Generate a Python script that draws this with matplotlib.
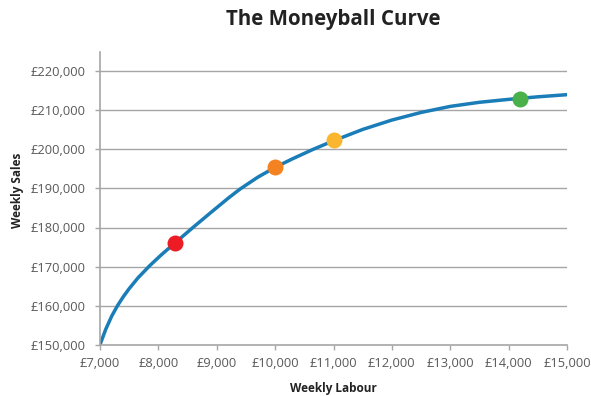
import matplotlib
matplotlib.use("Agg")
import matplotlib.pyplot as plt
from matplotlib.ticker import FuncFormatter

plt.rcParams['font.family'] = ['Open Sans', 'DejaVu Sans']

curve_labour = [7000, 7100, 7200, 7300, 7400, 7500, 7650, 7850, 8050, 8300, 8600, 8900, 9200, 9400,
                9700, 10000, 10300, 10650, 11000, 11500, 12000, 12500, 13000, 13500, 14000, 14500, 15000]
curve_sales = [150000, 154000, 157300, 160000, 162300, 164350, 167100, 170200, 173000, 176250, 180100,
               183850, 187550, 189850, 192850, 195400, 197600, 200000, 202200, 205100, 207500, 209450,
               211000, 212050, 212800, 213450, 214000]

point_labour = [8290, 10005, 11016, 14194]
point_sales = [176100, 195500, 202330, 212950]
point_colors = ['#ed1c24', '#f58220', '#fbb62f', '#4ab04a']

x_ticks = list(range(7000, 15001, 1000))
y_ticks = list(range(150000, 220001, 10000))

fig = plt.figure(figsize=(5.91, 3.96), dpi=100)
ax = fig.add_axes([100/591, 1-344.7/396, 467/591, (344.7-51.7)/396])

for yv in y_ticks[1:]:
    ax.axhline(yv, color='#a6a6a6', lw=1.0, zorder=1)

ax.plot(curve_labour, curve_sales, color='#1a7db8', lw=2.5, zorder=2,
        solid_capstyle='round', solid_joinstyle='round')
for xv, yv, c in zip(point_labour, point_sales, point_colors):
    ax.plot(xv, yv, 'o', ms=11.5, color=c, markeredgewidth=0, zorder=3)

ax.set_xlim(7000, 15000)
ax.set_ylim(150000, 225000)
ax.set_xticks(x_ticks)
ax.set_yticks(y_ticks)
ax.xaxis.set_major_formatter(FuncFormatter(lambda v, p: '£{:,.0f}'.format(v)))
ax.yaxis.set_major_formatter(FuncFormatter(lambda v, p: '£{:,.0f}'.format(v)))
ax.tick_params(axis='both', colors='#a6a6a6', labelcolor='#595959', labelsize=9.3, length=3.6, width=1)
ax.tick_params(axis='y', pad=7)
ax.tick_params(axis='x', pad=5)
for s in ['top', 'right']:
    ax.spines[s].set_visible(False)
for s in ['left', 'bottom']:
    ax.spines[s].set_color('#a6a6a6')
    ax.spines[s].set_linewidth(1.2)

ax.set_xlabel('Weekly Labour', fontsize=8.5, fontweight='bold', color='#222222', labelpad=9)
ax.set_ylabel('Weekly Sales', fontsize=8.5, fontweight='bold', color='#222222', va='center')
ax.yaxis.set_label_coords((18 - 100) / 467, (344.7 - 190) / 293)
fig.text(333.5/591, 1-20/396, 'The Moneyball Curve', ha='center', va='center',
         fontsize=14.8, fontweight='bold', color='#222222')

fig.savefig('out.png', dpi=100)
